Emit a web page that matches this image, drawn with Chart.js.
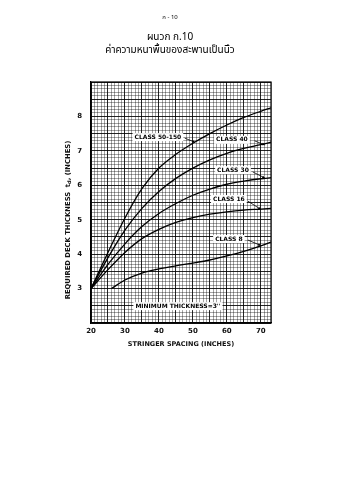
<!DOCTYPE html>
<html>
<head>
<meta charset="utf-8">
<script src="https://cdn.jsdelivr.net/npm/chart.js@4.4.1/dist/chart.umd.min.js"></script>
<style>
  html, body { margin: 0; padding: 0; background: #fff; }
  #wrap { position: relative; width: 339px; height: 480px; }
</style>
</head>
<body>
<div id="wrap"><canvas id="deckChart" width="339" height="480"></canvas></div>
<script>
const spacing = [20, 25, 30, 35, 40, 45, 50, 55, 60, 65, 70, 73];
const spacingClass8 = [26, 30, 35, 40, 45, 50, 55, 60, 65, 70, 73];

// Required deck thickness (inches) per load class
const class50to150 = [3.0, 4.05, 5.05, 5.9, 6.5, 6.9, 7.22, 7.5, 7.75, 7.97, 8.15, 8.25];
const class40 = [3.0, 3.9, 4.7, 5.33, 5.82, 6.2, 6.5, 6.74, 6.93, 7.07, 7.18, 7.25];
const class30 = [3.0, 3.7, 4.3, 4.8, 5.18, 5.47, 5.71, 5.89, 6.03, 6.12, 6.19, 6.22];
const class16 = [3.0, 3.55, 4.05, 4.45, 4.72, 4.92, 5.06, 5.16, 5.23, 5.28, 5.31, 5.33];
const class8 = [3.0, 3.25, 3.45, 3.57, 3.66, 3.74, 3.83, 3.95, 4.08, 4.24, 4.35];

// Tick labels that are printed
const xTickLabels = [20, 30, 40, 50, 60, 70];
const yTickLabels = [3, 4, 5, 6, 7, 8];

// Curve labels (in data units) and where their arrows point
const notes = [
    { text: 'CLASS 50-150', x: 39.7, y: 7.40, from: [47.6, 7.37], to: [50.6, 7.25] },
    { text: 'CLASS 40', x: 61.5, y: 7.32, from: [68.2, 7.29], to: [71.2, 7.17] },
    { text: 'CLASS 30', x: 61.8, y: 6.44, from: [67.6, 6.39], to: [71.2, 6.21] },
    { text: 'CLASS 16', x: 60.6, y: 5.60, from: [66.2, 5.54], to: [70.0, 5.30] },
    { text: 'CLASS 8', x: 60.6, y: 4.44, from: [66.2, 4.41], to: [70.0, 4.25] },
    { text: "MINIMUM THICKNESS=3''", x: 45.6, y: 2.49 }
];

const toPoints = (xs, ys) => xs.map((x, i) => ({ x: x, y: ys[i] }));

const curve = (label, xs, ys) => ({
    label: label,
    data: toPoints(xs, ys),
    borderColor: '#000',
    borderWidth: 1.3,
    pointRadius: 0,
    fill: false,
    cubicInterpolationMode: 'monotone'
});

const isNear = (v, step) => Math.abs(v / step - Math.round(v / step)) < 1e-6;

const tickFont = { family: '"DejaVu Sans", sans-serif', size: 7, weight: 'bold' };

// Frame, curve labels, y title and page header
const pageText = {
    id: 'pageText',
    afterDatasetsDraw(chart) {
        const { ctx, chartArea: a, scales: { x, y } } = chart;
        ctx.save();
        ctx.strokeStyle = '#000';
        ctx.lineWidth = 1.2;
        ctx.strokeRect(a.left, a.top, a.right - a.left, a.bottom - a.top);

        ctx.font = 'bold 6px "DejaVu Sans", sans-serif';
        ctx.textAlign = 'center';
        ctx.textBaseline = 'middle';
        notes.forEach(n => {
            const px = x.getPixelForValue(n.x);
            const py = y.getPixelForValue(n.y);
            const w = ctx.measureText(n.text).width + 4;
            ctx.fillStyle = '#fff';
            ctx.fillRect(px - w / 2, py - 4, w, 8);
            ctx.fillStyle = '#000';
            ctx.fillText(n.text, px, py);
            if (n.from) {
                const x1 = x.getPixelForValue(n.from[0]), y1 = y.getPixelForValue(n.from[1]);
                const x2 = x.getPixelForValue(n.to[0]), y2 = y.getPixelForValue(n.to[1]);
                ctx.lineWidth = 0.8;
                ctx.beginPath();
                ctx.moveTo(x1, y1);
                ctx.lineTo(x2, y2);
                ctx.stroke();
                const ang = Math.atan2(y2 - y1, x2 - x1);
                ctx.beginPath();
                ctx.moveTo(x2, y2);
                ctx.lineTo(x2 - 3 * Math.cos(ang - 0.45), y2 - 3 * Math.sin(ang - 0.45));
                ctx.lineTo(x2 - 3 * Math.cos(ang + 0.45), y2 - 3 * Math.sin(ang + 0.45));
                ctx.closePath();
                ctx.fill();
            }
        });
        ctx.restore();
    },
    afterDraw(chart) {
        const ctx = chart.ctx;
        ctx.save();
        ctx.fillStyle = '#000';
        ctx.textAlign = 'center';
        ctx.textBaseline = 'middle';
        ctx.font = '6px "Noto Sans Thai", "Noto Sans", "DejaVu Sans", sans-serif';
        ctx.fillText('ก - 10', 170, 18);
        ctx.font = '10px "Noto Sans Thai", "Noto Sans", "DejaVu Sans", sans-serif';
        ctx.fillText('ผนวก ก.10', 170, 38);
        ctx.fillText('ค่าความหนาพื้นของสะพานเป็นนิ้ว', 170, 51);

        // y axis title with subscript d
        const big = 'bold 6.8px "DejaVu Sans", sans-serif';
        const small = 'bold 5px "DejaVu Sans", sans-serif';
        const parts = [
            ['REQUIRED DECK THICKNESS  t', big, 0],
            ['d', small, 1.8],
            [', (INCHES)', big, 0]
        ];
        let total = 0;
        parts.forEach(p => { ctx.font = p[1]; total += ctx.measureText(p[0]).width; });
        ctx.translate(68, 220);
        ctx.rotate(-Math.PI / 2);
        ctx.textAlign = 'left';
        ctx.fillStyle = '#111';
        let cx = -total / 2;
        parts.forEach(p => {
            ctx.font = p[1];
            ctx.fillText(p[0], cx, p[2]);
            cx += ctx.measureText(p[0]).width;
        });
        ctx.restore();
    }
};

new Chart(document.getElementById('deckChart'), {
    type: 'line',
    data: {
        datasets: [
            curve('Class 50-150', spacing, class50to150),
            curve('Class 40', spacing, class40),
            curve('Class 30', spacing, class30),
            curve('Class 16', spacing, class16),
            curve('Class 8', spacingClass8, class8)
        ]
    },
    options: {
        responsive: false,
        animation: false,
        layout: { padding: { left: 63, right: 68, top: 82, bottom: 132 } },
        plugins: {
            legend: { display: false },
            tooltip: { enabled: false }
        },
        scales: {
            x: {
                type: 'linear',
                min: 20,
                max: 73,
                afterFit: s => { s.height = 25; },
                grid: {
                    drawTicks: false,
                    color: c => isNear(c.tick.value, 5) ? 'rgba(0,0,0,0.85)' : 'rgba(0,0,0,0.45)',
                    lineWidth: c => isNear(c.tick.value, 5) ? 1 : 0.8
                },
                border: { color: '#000', width: 1.2 },
                ticks: {
                    stepSize: 1,
                    autoSkip: false,
                    maxRotation: 0,
                    padding: 4,
                    color: '#111',
                    font: tickFont,
                    callback: v => xTickLabels.includes(Math.round(v)) && isNear(v, 1) ? String(Math.round(v)) : ''
                },
                title: {
                    display: true,
                    text: 'STRINGER SPACING (INCHES)',
                    color: '#111',
                    padding: { top: 0, bottom: 0 },
                    font: { family: '"DejaVu Sans", sans-serif', size: 6.5, weight: 'bold' }
                }
            },
            y: {
                type: 'linear',
                min: 2,
                max: 9,
                afterFit: s => { s.width = 28; },
                grid: {
                    drawTicks: false,
                    color: c => isNear(c.tick.value, 0.5) ? 'rgba(0,0,0,0.85)' : 'rgba(0,0,0,0.45)',
                    lineWidth: c => isNear(c.tick.value, 0.5) ? 1 : 0.8
                },
                border: { color: '#000', width: 1.2 },
                ticks: {
                    stepSize: 0.1,
                    autoSkip: false,
                    padding: 9,
                    color: '#111',
                    font: tickFont,
                    callback: v => yTickLabels.includes(Math.round(v)) && isNear(v, 1) ? String(Math.round(v)) : ''
                },
                title: { display: false }
            }
        }
    },
    plugins: [pageText]
});
</script>
</body>
</html>
